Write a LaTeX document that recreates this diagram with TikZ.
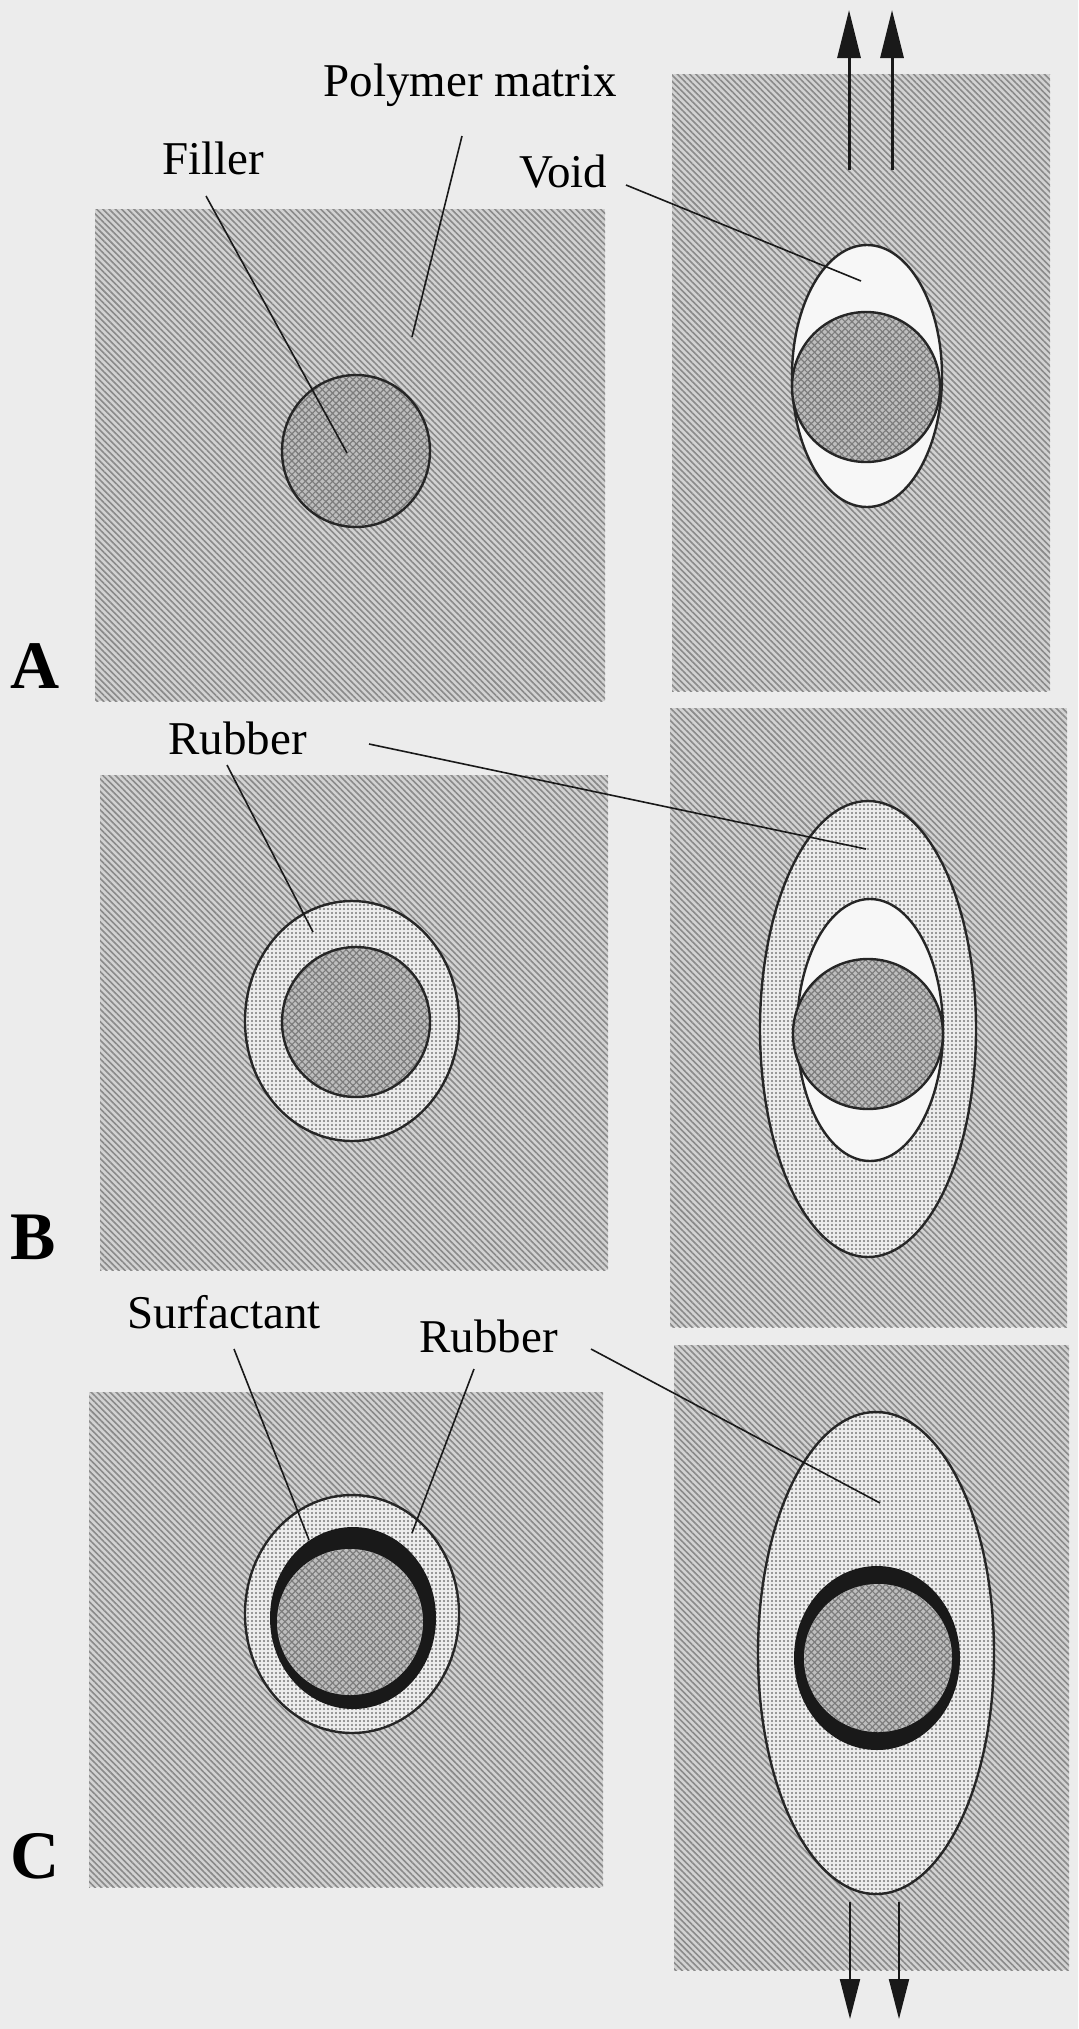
\documentclass[tikz,border=0pt]{standalone}
\usepackage{xcolor}
\usepackage{fontspec}
\setmainfont{Liberation Serif}
\usepackage{tikz}
\usetikzlibrary{patterns.meta,arrows.meta}
\definecolor{paper}{HTML}{ECECEC}
\definecolor{matrixbg}{HTML}{D2D2D2}
\definecolor{matrixln}{HTML}{8A8A8A}
\definecolor{fillerbg}{HTML}{BEBEBE}
\definecolor{fillerln}{HTML}{7C7C7C}
\definecolor{rubberbg}{HTML}{EDEDED}
\definecolor{rubberdot}{HTML}{7A7A7A}
\definecolor{voidbg}{HTML}{F7F7F7}
\tikzset{
  matrixbox/.style={preaction={fill=matrixbg}, pattern={Lines[angle=-45,distance=2.2pt,line width=0.8pt]}, pattern color=matrixln},
  fillerball/.style={draw=black!85, line width=1.2pt, preaction={fill=fillerbg},
    preaction={pattern={Lines[angle=45,distance=2.4pt,line width=0.6pt]}, pattern color=fillerln},
    pattern={Lines[angle=-45,distance=2.4pt,line width=0.6pt]}, pattern color=fillerln},
  rubbershell/.style={draw=black!85, line width=1.2pt, preaction={fill=rubberbg}, pattern={Dots[distance=2pt,radius=0.55pt]}, pattern color=rubberdot},
  voidhole/.style={draw=black!85, line width=1.2pt, fill=voidbg},
  surfring/.style={fill=black!90},
  leader/.style={draw=black!90, line width=0.8pt},
  lbl/.style={anchor=base west, inner sep=0pt, font=\fontsize{23.5}{28}\selectfont},
  panellbl/.style={anchor=base west, inner sep=0pt, font=\fontsize{34}{40}\selectfont\bfseries}
}

\begin{document}
\begin{tikzpicture}[x=0.5pt, y=-0.5pt]
  \tikzset{pullup/.style={-{Triangle[length=24pt,width=11.5pt]}, line width=1.5pt, black!90},
           pulldown/.style={-{Triangle[length=20pt,width=10pt]}, line width=1pt, black!90}}

  \fill[paper] (0,0) rectangle (1078,2029);
  \useasboundingbox (0,0) rectangle (1078,2029);

  % A
  \path[matrixbox] (95,209) rectangle (605,701);
  \path[matrixbox] (672,74) rectangle (1050,691);
  \path[fillerball] (356,451) ellipse [x radius=74, y radius=76];
  \path[voidhole] (867,376) ellipse [x radius=75, y radius=131];
  \path[fillerball] (866,387) ellipse [x radius=74, y radius=75];

  \node[lbl] (fillerA) at (162,174) {Filler};
  \node[lbl] (polyA) at (323,96) {Polymer matrix};
  \node[lbl] (voidA) at (519,187) {Void};
  \node[panellbl] (panA) at (10,688) {A};

  \coordinate (fillerAs) at (206,196);
  \coordinate (fillerAe) at (347,453);
  \coordinate (polyAs) at (462,136);
  \coordinate (polyAe) at (412,337);
  \coordinate (voidAs) at (626,185);
  \coordinate (voidAe) at (861,281);
  \draw[leader] (fillerAs) -- (fillerAe);
  \draw[leader] (polyAs) -- (polyAe);
  \draw[leader] (voidAs) -- (voidAe);

  \coordinate (upLs) at (849,170);
  \coordinate (upLe) at (849,10);
  \coordinate (upRs) at (892,170);
  \coordinate (upRe) at (892,10);
  \draw[pullup] (upLs) -- (upLe);
  \draw[pullup] (upRs) -- (upRe);

  % B
  \path[matrixbox] (100,775) rectangle (608,1270);
  \path[matrixbox] (670,708) rectangle (1067,1327);
  \path[rubbershell] (352,1021) ellipse [x radius=107, y radius=120];
  \path[fillerball] (356,1022) ellipse [x radius=74, y radius=75];
  \path[rubbershell] (868,1029) ellipse [x radius=108, y radius=228];
  \path[voidhole] (870,1030) ellipse [x radius=73, y radius=131];
  \path[fillerball] (868,1034) ellipse [x radius=75, y radius=75];

  \node[lbl] (rubberB) at (168,754) {Rubber};
  \node[panellbl] (panB) at (10,1259) {B};

  \coordinate (rubBls) at (227,765);
  \coordinate (rubBle) at (313,932);
  \coordinate (rubBrs) at (369,744);
  \coordinate (rubBre) at (866,849);
  \draw[leader] (rubBls) -- (rubBle);
  \draw[leader] (rubBrs) -- (rubBre);

  % C
  \path[matrixbox] (89,1392) rectangle (603,1887);
  \path[matrixbox] (674,1345) rectangle (1069,1970);
  \path[rubbershell] (352,1614) ellipse [x radius=107, y radius=119];
  \path[surfring] (353,1618) ellipse [x radius=83, y radius=91];
  \path[fillerball, draw=none] (350,1622) ellipse [x radius=73, y radius=73];
  \path[rubbershell] (876,1653) ellipse [x radius=118, y radius=241];
  \path[surfring] (877,1658) ellipse [x radius=83, y radius=92];
  \path[fillerball, draw=none] (878,1658) ellipse [x radius=74, y radius=74];

  \node[lbl] (surfC) at (127,1328) {Surfactant};
  \node[lbl] (rubberC) at (419,1352) {Rubber};
  \node[panellbl] (panC) at (10,1878) {C};

  \coordinate (surfCs) at (234,1349);
  \coordinate (surfCe) at (309,1540);
  \coordinate (rubCls) at (474,1369);
  \coordinate (rubCle) at (412,1533);
  \coordinate (rubCrs) at (591,1349);
  \coordinate (rubCre) at (880,1503);
  \draw[leader] (surfCs) -- (surfCe);
  \draw[leader] (rubCls) -- (rubCle);
  \draw[leader] (rubCrs) -- (rubCre);

  \coordinate (dnLs) at (850,1902);
  \coordinate (dnLe) at (850,2019);
  \coordinate (dnRs) at (899,1902);
  \coordinate (dnRe) at (899,2019);
  \draw[pulldown] (dnLs) -- (dnLe);
  \draw[pulldown] (dnRs) -- (dnRe);
\end{tikzpicture}
\end{document}
